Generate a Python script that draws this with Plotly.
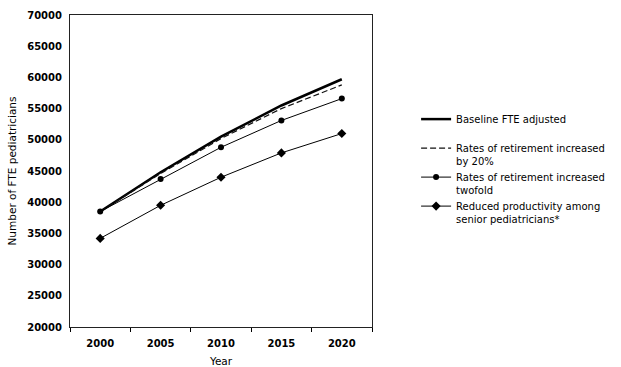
import plotly.graph_objects as go

years = ["2000", "2005", "2010", "2015", "2020"]
baseline = [38500, 44800, 50500, 55500, 59700]
retire_20 = [38500, 44600, 50200, 55000, 58800]
retire_2x = [38500, 43700, 48800, 53100, 56600]
reduced = [34200, 39500, 44000, 47900, 51000]
y_ticks = [20000, 25000, 30000, 35000, 40000, 45000, 50000, 55000, 60000, 65000, 70000]

fig = go.Figure()
fig.add_trace(go.Scatter(x=years, y=baseline, mode="lines", name="Baseline FTE adjusted<br> ",
                         line=dict(color="black", width=2.5)))
fig.add_trace(go.Scatter(x=years, y=retire_20, mode="lines", name="Rates of retirement increased<br>by 20%",
                         line=dict(color="#111111", width=1.2, dash="6px,3px")))
fig.add_trace(go.Scatter(x=years, y=retire_2x, mode="lines+markers", name="Rates of retirement increased<br>twofold",
                         line=dict(color="black", width=1), marker=dict(symbol="circle", size=6, color="black")))
fig.add_trace(go.Scatter(x=years, y=reduced, mode="lines+markers", name="Reduced productivity among<br>senior pediatricians*",
                         line=dict(color="black", width=1), marker=dict(symbol="diamond", size=7, color="black")))

fig.update_layout(
    width=621, height=367,
    margin=dict(l=70, r=249, t=15, b=40, autoexpand=False),
    paper_bgcolor="white", plot_bgcolor="white",
    font=dict(family="DejaVu Sans", size=10, color="black"),
    showlegend=True,
    legend=dict(x=1.146, y=0.708, xanchor="left", yanchor="top", valign="top",
                font=dict(size=10), bgcolor="rgba(0,0,0,0)", tracegroupgap=0),
    xaxis=dict(type="category", range=[-0.5, 4.5], tickson="boundaries", ticks="outside", ticklen=4,
               tickcolor="black", showline=True, linecolor="#222222", linewidth=1, mirror=True, showgrid=False,
               automargin=False, ticklabelstandoff=7,
               title=dict(text="Year", standoff=11, font=dict(size=10.5)),
               tickfont=dict(family="DejaVu Sans", size=10, weight="bold")),
    yaxis=dict(range=[20000, 70000], tickvals=y_ticks, tickformat="d", showline=True, linecolor="#222222",
               linewidth=1, mirror=True, automargin=False, ticklabelstandoff=5,
               showgrid=False, zeroline=False, ticks="",
               title=dict(text="Number of FTE pediatricians", standoff=8, font=dict(size=10.5)),
               tickfont=dict(family="DejaVu Sans", size=10, weight="bold")),
)
fig.write_html("out.html", config={"displayModeBar": False},
               post_script="document.body.style.margin='0';document.body.style.padding='0';")
